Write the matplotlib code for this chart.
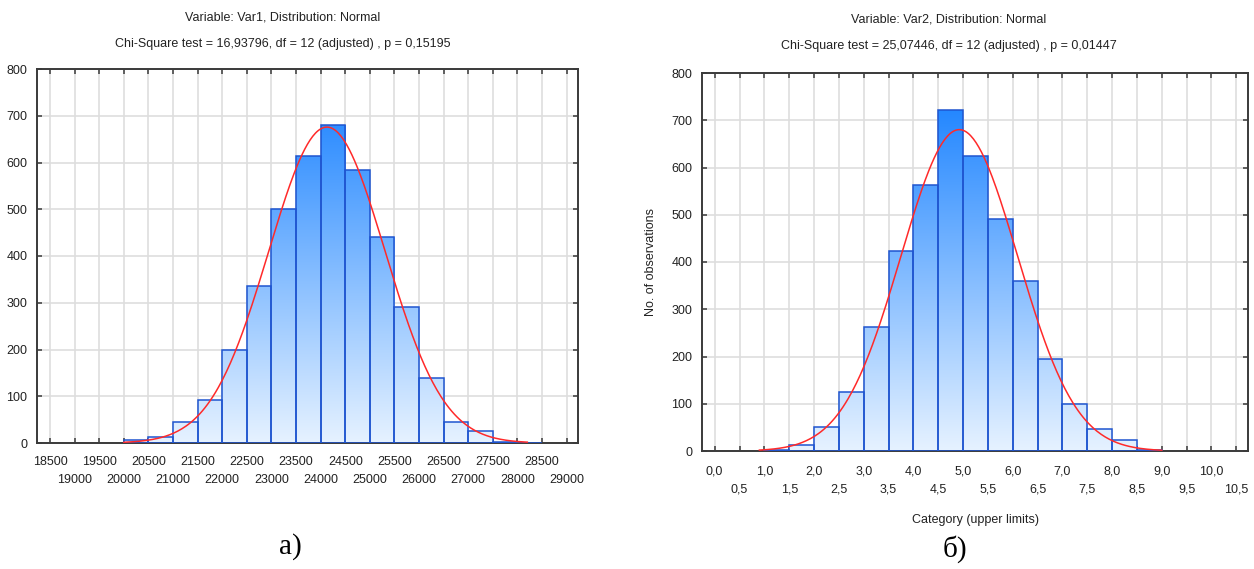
import numpy as np
import matplotlib
matplotlib.use("Agg")
import matplotlib.pyplot as plt
from matplotlib.colors import LinearSegmentedColormap

plt.rcParams['font.family'] = ['Liberation Sans', 'DejaVu Sans']

# ---------------- data ----------------
# Panel a) Var1
edges1 = [20000, 20500, 21000, 21500, 22000, 22500, 23000, 23500, 24000,
          24500, 25000, 25500, 26000, 26500, 27000, 27500, 28000, 28500]
counts1 = [6, 12, 45, 91, 199, 336, 500, 613, 681, 584, 441, 291, 138, 45, 25, 2, 1]
ticks1 = [18500, 19000, 19500, 20000, 20500, 21000, 21500, 22000, 22500, 23000,
          23500, 24000, 24500, 25000, 25500, 26000, 26500, 27000, 27500, 28000,
          28500, 29000]
curve1_range = (20000, 28200)
title1a = "Variable: Var1, Distribution: Normal"
title1b = "Chi-Square test = 16,93796, df = 12 (adjusted) , p = 0,15195"

# Panel б) Var2
edges2 = [1.0, 1.5, 2.0, 2.5, 3.0, 3.5, 4.0, 4.5, 5.0, 5.5, 6.0, 6.5, 7.0,
          7.5, 8.0, 8.5, 9.0]
counts2 = [2, 13, 50, 125, 263, 424, 562, 721, 625, 491, 360, 194, 100, 47, 23, 3]
ticks2 = [0.0, 0.5, 1.0, 1.5, 2.0, 2.5, 3.0, 3.5, 4.0, 4.5, 5.0, 5.5, 6.0, 6.5,
          7.0, 7.5, 8.0, 8.5, 9.0, 9.5, 10.0, 10.5]
curve2_range = (0.9, 9.0)
title2a = "Variable: Var2, Distribution: Normal"
title2b = "Chi-Square test = 25,07446, df = 12 (adjusted) , p = 0,01447"
ylabel2 = "No. of observations"
xlabel2 = "Category (upper limits)"

yticks = [0, 100, 200, 300, 400, 500, 600, 700, 800]

# ---------------- style ----------------
W, H = 1254, 569
fig = plt.figure(figsize=(W / 100, H / 100), dpi=100)

grad_cmap = LinearSegmentedColormap.from_list("g", ["#e6f2ff", "#1a82ff"])
EDGE = "#1f55d0"
GRID = "#dedede"
SPINE = "#3a3a3a"
TXT = "#222222"
FS = 9


def px_axes(x0, y0, x1, y1):
    return fig.add_axes([x0 / W, 1 - y1 / H, (x1 - x0) / W, (y1 - y0) / H])


def draw_panel(ax, edges, counts, ticks, xlim, crange, fmt, xpad):
    edges = np.asarray(edges, float)
    counts = np.asarray(counts, float)
    widths = np.diff(edges)
    major = ticks[0::2]
    minor = ticks[1::2]
    ax.set_xticks(major, [fmt(t) for t in major])
    ax.set_xticks(minor, [fmt(t) for t in minor], minor=True)
    ax.set_yticks(yticks)
    ax.grid(True, which='both', color=GRID, lw=1.2, zorder=0)
    ax.set_axisbelow(True)
    bars = ax.bar(edges[:-1], counts, width=widths, align='edge',
                  facecolor='none', edgecolor=EDGE, lw=1.1, zorder=3)
    grad = np.linspace(0, 1, 256).reshape(-1, 1)
    for b in bars:
        im = ax.imshow(grad, cmap=grad_cmap, origin='lower', aspect='auto',
                       extent=(xlim[0], xlim[1], 0, 760), zorder=2,
                       interpolation='bilinear')
        im.set_clip_path(b)
    ax.set_xlim(*xlim)
    ax.set_ylim(0, 800)
    # fitted normal curve from binned data
    mids = edges[:-1] + widths / 2
    n = counts.sum()
    mu = (mids * counts).sum() / n
    sd = np.sqrt(((mids - mu) ** 2 * counts).sum() / n - widths[0] ** 2 / 12)
    xs = np.linspace(crange[0], crange[1], 300)
    ys = n * widths[0] / (sd * np.sqrt(2 * np.pi)) * np.exp(-0.5 * ((xs - mu) / sd) ** 2)
    ax.plot(xs, ys, color="#ff2a2a", lw=1.1, zorder=4)
    for s in ax.spines.values():
        s.set_color(SPINE)
        s.set_linewidth(1.4)
    ax.tick_params(which='both', direction='in', length=3.5, width=1.1, color=SPINE,
                   top=True, right=True, labelsize=FS, labelcolor=TXT)
    ax.tick_params(axis='x', which='major', pad=xpad)
    ax.tick_params(axis='x', which='minor', pad=xpad + 13)
    ax.tick_params(axis='y', pad=7)


ax1 = px_axes(37, 69, 578, 443)
draw_panel(ax1, edges1, counts1, ticks1, (18235, 29230), curve1_range,
           lambda t: f"{int(t)}", 9.5)

ax2 = px_axes(702, 73, 1248, 451)
draw_panel(ax2, edges2, counts2, ticks2, (-0.255, 10.735), curve2_range,
           lambda t: f"{t:.1f}".replace(".", ","), 10.5)
ax2.set_ylabel(ylabel2, fontsize=FS, color=TXT, labelpad=10)
ax2.set_xlabel(xlabel2, fontsize=FS, color=TXT, labelpad=13)

# titles
fig.text(283 / W, 1 - 17 / H, title1a, ha='center', va='center', fontsize=FS, color=TXT)
fig.text(283 / W, 1 - 44 / H, title1b, ha='center', va='center', fontsize=FS, color=TXT)
fig.text(949 / W, 1 - 19 / H, title2a, ha='center', va='center', fontsize=FS, color=TXT)
fig.text(949 / W, 1 - 46 / H, title2b, ha='center', va='center', fontsize=FS, color=TXT)

fig.text(290 / W, 1 - 547 / H, "а)", ha='center', va='center', fontsize=21,
         family=['Liberation Serif', 'DejaVu Serif'], color='black')
fig.text(955 / W, 1 - 549 / H, "б)", ha='center', va='center', fontsize=21,
         family=['Liberation Serif', 'DejaVu Serif'], color='black')

fig.savefig("out.png", dpi=100)
